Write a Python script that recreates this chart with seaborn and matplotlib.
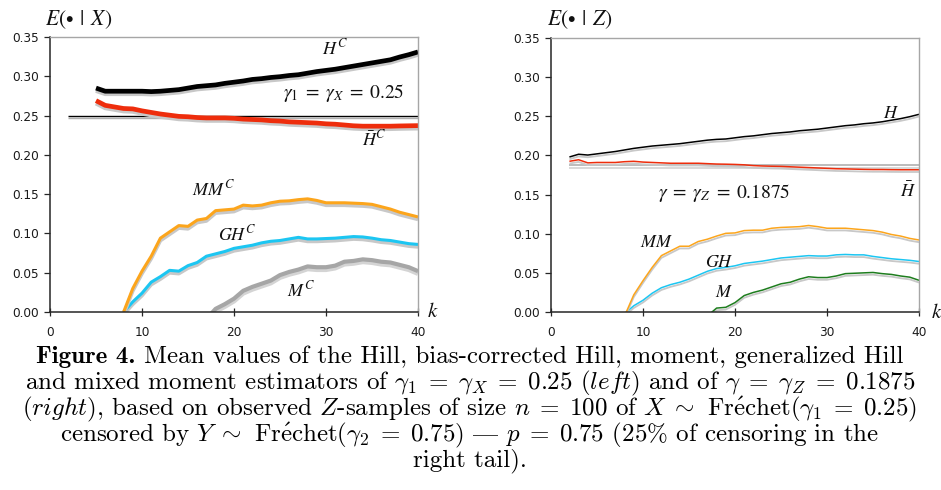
import matplotlib
matplotlib.use("Agg")
import numpy as np
import pandas as pd
import matplotlib.pyplot as plt
import matplotlib.patheffects as pe
import seaborn as sns

# ---------------------------------------------------------------------------
# Mean values of the estimators as functions of k
# ---------------------------------------------------------------------------
# Left panel: E(. | X), gamma_1 = gamma_X = 0.25
k_hill_x = np.arange(5, 41)
hill_c = [.285, .281, .281, .281, .281, .281, .2805, .281, .282, .283, .285, .287,
          .288, .289, .291, .2925, .294, .296, .297, .2985, .2995, .301, .302, .304,
          .306, .3075, .309, .311, .313, .315, .317, .319, .321, .3245, .3275, .331]
hill_bar_c = [.269, .263, .261, .259, .2585, .256, .254, .252, .2505, .249, .2485, .2475,
              .247, .247, .247, .2465, .2455, .245, .2445, .2435, .243, .242, .2415, .241,
              .2405, .2395, .239, .238, .237, .2365, .2365, .2365, .2365, .2368, .237, .2372]
k_mm_x = np.arange(8, 41)
mm_c = [0.0, .030, .052, .071, .094, .102, .110, .109, .117, .119, .129, .130, .131,
        .136, .135, .136, .139, .141, .1415, .143, .144, .142, .139, .139, .139, .1385,
        .138, .137, .134, .131, .127, .124, .121]
gh_c = [0.0, .013, .024, .038, .045, .053, .052, .059, .063, .071, .074, .077, .081,
        .083, .085, .088, .090, .091, .093, .095, .093, .093, .0935, .094, .095, .096,
        .0955, .094, .092, .091, .089, .087, .086]
k_m_x = np.arange(17, 41)
m_c = [-.009, .004, .010, .017, .027, .032, .036, .040, .047, .051, .054, .058, .057,
       .057, .059, .064, .065, .067, .066, .064, .063, .060, .057, .052]

# Right panel: E(. | Z), gamma = gamma_Z = 0.1875
k_hill_z = np.arange(2, 41)
hill_z = [.198, .2015, .2005, .202, .2035, .205, .207, .209, .2105, .212, .213, .214,
          .215, .2165, .218, .2195, .2205, .221, .2225, .224, .225, .2265, .228, .229,
          .230, .2315, .2325, .2335, .235, .2365, .238, .239, .2405, .2415, .243, .245,
          .247, .2495, .2525]
hill_bar_z = [.1925, .1945, .1905, .191, .191, .191, .192, .1925, .1915, .191, .1905,
              .190, .190, .190, .190, .1895, .189, .1888, .1885, .188, .187, .1865,
              .1862, .186, .1855, .185, .1845, .184, .1835, .183, .1828, .1825, .1822,
              .182, .182, .1818, .1817, .1817, .1817]
k_mm_z = np.arange(8, 41)
mm_z = [-.005, .022, .040, .057, .072, .078, .084, .084, .090, .093, .097, .1005, .101,
        .104, .1045, .1045, .107, .108, .1085, .109, .1105, .109, .107, .107, .107, .106,
        .105, .104, .102, .099, .097, .094, .092]
gh_z = [-.002, .008, .015, .024, .031, .035, .038, .042, .047, .052, .0555, .057, .059,
        .062, .0635, .065, .067, .069, .070, .071, .072, .0715, .0715, .073, .0735, .073,
        .073, .071, .0695, .068, .067, .066, .0645]
k_m_z = np.arange(17, 41)
m_z = [-.005, .005, .006, .012, .021, .025, .028, .032, .036, .038, .042, .045, .044,
       .044, .046, .049, .0495, .050, .0505, .049, .048, .046, .0445, .0405]

# True values of the tail index and the k-range of the reference line
gamma_x = 0.25
gamma_z = 0.1875
k_ref = (2, 40)

x_ticks = [0, 10, 20, 30, 40]
y_ticks = [0.00, 0.05, 0.10, 0.15, 0.20, 0.25, 0.30, 0.35]

FRECHET = r"$\mathrm{Fr\acute{e}chet}$"
caption_head = "Figure 4."
caption_first = "Mean values of the Hill, bias-corrected Hill, moment, generalized Hill"
caption_rest = [
    r"and mixed moment estimators of $\gamma_1\;=\;\gamma_X\;=\;0.25$ ($\mathit{left}$) "
    r"and of $\gamma\;=\;\gamma_Z\;=\;0.1875$",
    r"($\mathit{right}$), based on observed $Z$-samples of size $n\;=\;100$ of $X\;\sim$ "
    + FRECHET + r"($\gamma_1\;=\;0.25$)",
    r"censored by $Y\;\sim$ " + FRECHET + r"($\gamma_2\;=\;0.75$) $\mathrm{—}$ "
    r"$p\;=\;0.75$ (25% of censoring in the",
    "right tail).",
]

# ---------------------------------------------------------------------------
sns.set_theme(style="white")
plt.rcParams["font.family"] = ["DejaVu Sans"]

W, H = 941, 490
fig = plt.figure(figsize=(W / 100, H / 100), dpi=100)


def fpos(x, y):
    """Pixel position (from top-left) to figure fraction."""
    return x / W, 1 - y / H


def shadowed(lw, shadow="#c8c8c8", dy=-1.6, slw=None):
    return [pe.SimpleLineShadow(offset=(0, dy), shadow_color=shadow, alpha=1.0,
                                linewidth=slw if slw else lw),
            pe.Normal()]


def frame(ax):
    ax.set_xlim(0, 40)
    ax.set_ylim(0, 0.35)
    ax.set_xticks(x_ticks)
    ax.set_yticks(y_ticks)
    ax.set_yticklabels([f"{v:.2f}" for v in y_ticks])
    ax.set_xlabel("")
    ax.set_ylabel("")
    for side in ("left", "bottom"):
        ax.spines[side].set_color("#262626")
        ax.spines[side].set_linewidth(1.1)
    for side in ("top", "right"):
        ax.spines[side].set_color("#a6a6a6")
        ax.spines[side].set_linewidth(1.0)
    ax.tick_params(axis="y", direction="out", length=4, width=0.9, color="#262626",
                   labelsize=8.7, pad=4, left=True, labelcolor="#1a1a1a")
    ax.tick_params(axis="x", direction="inout", length=6, width=0.9, color="#262626",
                   labelsize=8.7, pad=7, bottom=True, labelcolor="#1a1a1a")
    ax.grid(False)


def draw(ax, k, vals, color, lw, shadow="#c8c8c8", dy=-1.6, slw=None):
    df = pd.DataFrame({"k": k, "value": vals})
    sns.lineplot(data=df, x="k", y="value", ax=ax, color=color, lw=lw,
                 path_effects=shadowed(lw, shadow, dy, slw),
                 solid_capstyle="butt", legend=False)


# ---- left panel -----------------------------------------------------------
axL = fig.add_axes([50 / W, 1 - 312 / H, 368 / W, 275 / H])
axL.hlines(gamma_x, *k_ref, color="black", lw=1.0,
           path_effects=shadowed(1.0, "#b0b0b0", -1.6))
draw(axL, k_m_x, m_c, "#a6a6a6", 3.0, shadow="#d4d4d4", dy=-1.8, slw=3.4)
draw(axL, k_mm_x, gh_c, "#1cc6f2", 2.2, dy=-1.8, slw=2.6)
draw(axL, k_mm_x, mm_c, "#fca51c", 2.2, dy=-1.8, slw=2.6)
draw(axL, k_hill_x, hill_bar_c, "#ee2d0c", 3.4, dy=-1.8, slw=3.4)
draw(axL, k_hill_x, hill_c, "black", 3.4, dy=-1.8, slw=3.4)
frame(axL)

# ---- right panel ----------------------------------------------------------
axR = fig.add_axes([551 / W, 1 - 312 / H, 368 / W, 274 / H])
axR.hlines(gamma_z, *k_ref, color="#a9a9a9", lw=1.1,
           path_effects=shadowed(1.1, "#d0d0d0", -2.2))
draw(axR, k_m_z, m_z, "#1e7d1e", 1.1, dy=-1.6, slw=1.3)
draw(axR, k_mm_z, gh_z, "#1cc6f2", 1.1, dy=-1.6, slw=1.3)
draw(axR, k_mm_z, mm_z, "#fca51c", 1.1, dy=-1.6, slw=1.3)
draw(axR, k_hill_z, hill_bar_z, "#ee2d0c", 1.1, dy=-1.6, slw=1.3)
draw(axR, k_hill_z, hill_z, "black", 1.1, dy=-1.6, slw=1.3)
frame(axR)

# ---- panel annotations ----------------------------------------------------
def label(x, y, s, size=13):
    fig.text(*fpos(x, y), s, ha="left", va="baseline", fontsize=size,
             math_fontfamily="stix", color="#111111")


label(45, 25, r"$E(\bullet\;\,|\;\,X)$", 15.5)
label(547, 25, r"$E(\bullet\;\,|\;\,Z)$", 15.5)

label(322, 54, r"$H^C$")
label(283, 98, r"$\gamma_1\;=\;\gamma_X\;=\;0.25$", 14)
label(362, 146, r"$\bar{H}^C$")
label(192, 195, r"$MM^C$")
label(218, 240, r"$GH^C$")
label(287, 296, r"$M^C$")
label(427, 317, r"$k$", 15)

label(883, 118, r"$H$")
label(658, 198, r"$\gamma\;=\;\gamma_Z\;=\;0.1875$", 14)
label(900, 197, r"$\bar{H}$")
label(640, 247, r"$MM$")
label(705, 267, r"$GH$")
label(715, 297, r"$M$")
label(931, 318, r"$k$", 15)

# ---- caption ----------------------------------------------------------------
CAP_SIZE = 18
CAP_FONT = dict(fontsize=CAP_SIZE, family=["cmr10", "DejaVu Serif"],
                math_fontfamily="cm", color="black")
renderer = fig.canvas.get_renderer()

# first line: bold lead-in followed by regular text, centred as one unit
line1_y = 363
head = fig.text(0, 0, caption_head, ha="left", va="baseline", fontsize=CAP_SIZE,
                family="cmb10", color="black")
rest = fig.text(0, 0, caption_first, ha="left", va="baseline", **CAP_FONT)
w_head = head.get_window_extent(renderer).width
w_rest = rest.get_window_extent(renderer).width
gap = 0.36 * CAP_SIZE * 100 / 72
x0 = 470 - (w_head + gap + w_rest) / 2
head.set_position(fpos(x0, line1_y))
rest.set_position(fpos(x0 + w_head + gap, line1_y))

# remaining lines as one centred block; its first baseline sits at line2_y
line2_y = 389
probe = fig.text(0, 0.5, caption_rest[0], va="baseline", **CAP_FONT)
ascent = probe.get_window_extent(renderer).y1 - 0.5 * H
probe.remove()
fig.text(*fpos(470, line2_y - ascent), "\n".join(caption_rest),
         ha="center", va="top", multialignment="center", linespacing=0.87,
         **CAP_FONT)

fig.savefig("out.png", dpi=100)
